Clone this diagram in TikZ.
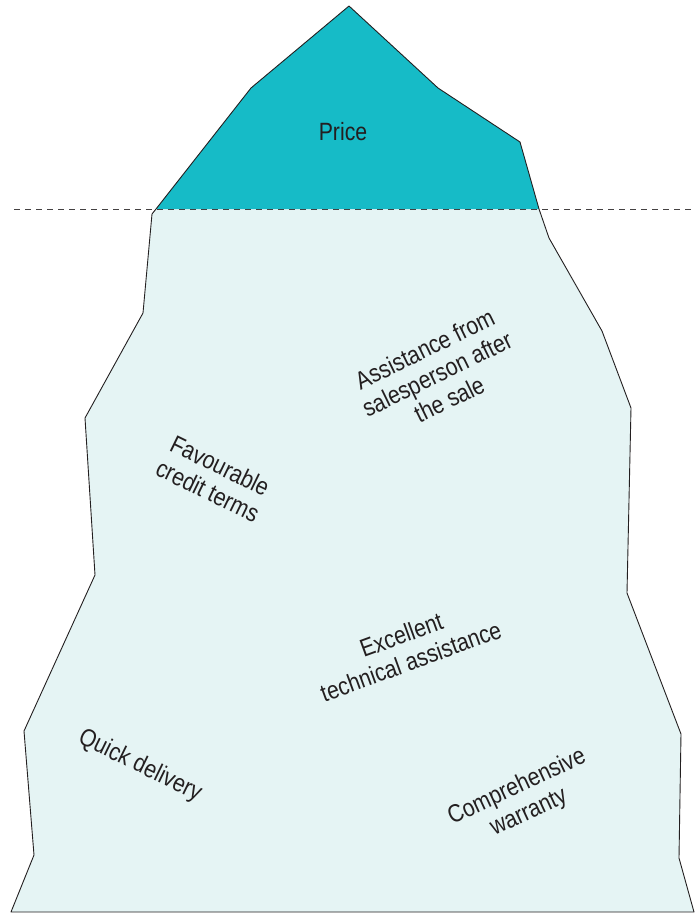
\documentclass[tikz,border=0pt]{standalone}
\usepackage{fontspec}
\setmainfont{Liberation Sans}[FakeStretch=0.85]
\usetikzlibrary{calc}
\definecolor{TipTeal}{RGB}{22,187,199}
\definecolor{IceBlue}{RGB}{229,244,244}
\definecolor{InkGrey}{RGB}{35,31,32}

\begin{document}
\begin{tikzpicture}[x=1pt,y=-1pt,
    outline/.style={draw=InkGrey,line width=.9pt,line join=round},
    label/.style={font=\fontsize{25}{28}\selectfont,text=InkGrey,align=center,inner sep=0pt}
  ]
  \useasboundingbox (0,0) rectangle (696,914);

  % under water
  \path[fill=IceBlue] (156,209) -- (152,214) -- (143,313) -- (85,418) -- (95,575)
    -- (24,731) -- (34,855) -- (11,912) -- (694,912) -- (679,858) -- (681,734)
    -- (627,593) -- (631,408) -- (602,331) -- (549,238) -- (539,209) -- cycle;
  % above water
  \path[fill=TipTeal] (156,209) -- (251,88) -- (349,6) -- (438,88) -- (520,142)
    -- (539,209) -- cycle;
  % outline of the whole berg
  \draw[outline] (156,209) -- (251,88) -- (349,6) -- (438,88) -- (520,142)
    -- (539,209) -- (549,238) -- (602,331) -- (631,408) -- (627,593) -- (681,734)
    -- (679,858) -- (694,912) -- (11,912) -- (34,855) -- (24,731) -- (95,575)
    -- (85,418) -- (143,313) -- (152,214) -- cycle;

  % waterline
  \coordinate (wl) at (14,209);
  \coordinate (wr) at (696,209);
  \draw[InkGrey!85,line width=.9pt,dash pattern=on 6pt off 5pt] (wl) -- (wr);

  \node[label] (price) at (343,132) {Price};
  \node[label,rotate=26] (aftersale) at (437,374) {Assistance from\\salesperson after\\the sale};
  \node[label,rotate=-26] (credit) at (214,478) {Favourable\\credit terms};
  \node[label,rotate=20] (technical) at (406,648) {Excellent\\technical assistance};
  \node[label,rotate=-26] (delivery) at (140,766) {Quick delivery};
  \node[label,rotate=25] (warranty) at (523,800) {Comprehensive\\warranty};
\end{tikzpicture}
\end{document}
